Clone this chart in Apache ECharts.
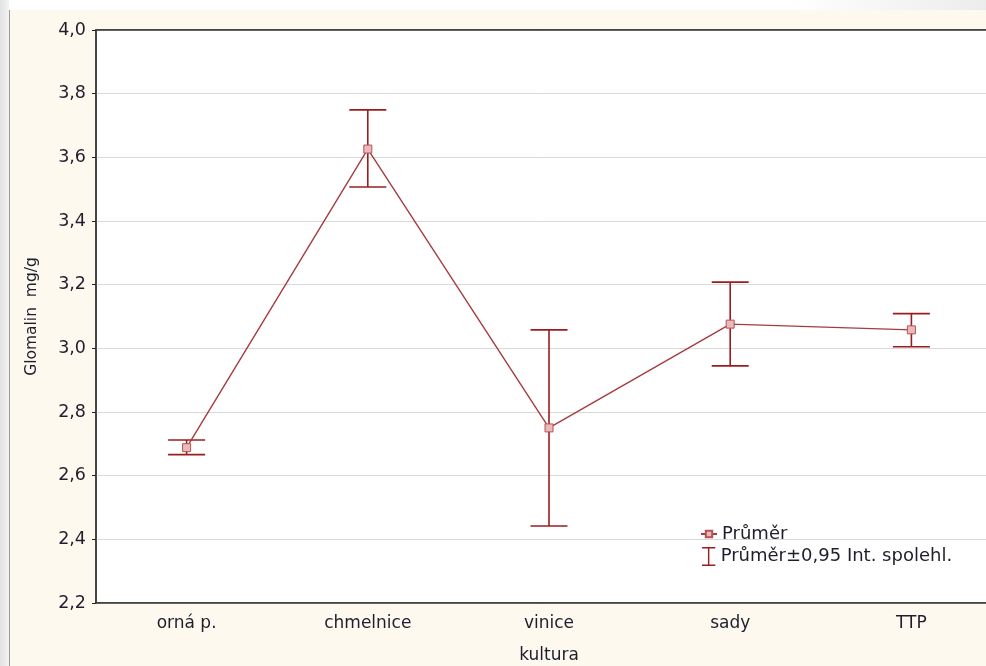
<!DOCTYPE html>
<html>
<head>
<meta charset="utf-8">
<script src="https://cdn.jsdelivr.net/npm/echarts@6/dist/echarts.min.js"></script>
<style>
html,body{margin:0;padding:0;background:#fff;}
#c{width:986px;height:666px;}
</style>
</head>
<body>
<div id="c"></div>
<script>
var categories = ['orná p.', 'chmelnice', 'vinice', 'sady', 'TTP'];
var means = [2.688, 3.626, 2.750, 3.076, 3.058];
var lower = [2.666, 3.507, 2.442, 2.945, 3.005];
var upper = [2.712, 3.749, 3.058, 3.208, 3.109];
var yTicks = [2.2, 2.4, 2.6, 2.8, 3.0, 3.2, 3.4, 3.6, 3.8, 4.0];

var errData = categories.map(function (c, i) { return [i, lower[i], upper[i]]; });
var font = '"DejaVu Sans", sans-serif';
var txt = '#1e1e2c';
var red = '#9b1c1f';

var chart = echarts.init(document.getElementById('c'), null, {renderer: 'canvas'});
chart.setOption({
  backgroundColor: '#fef9ef',
  animation: false,
  graphic: [
    {type: 'rect', shape: {x: 0, y: 0, width: 986, height: 10}, style: {fill: {type: 'linear', x: 0, y: 0, x2: 1, y2: 0, colorStops: [{offset: 0, color: '#ffffff'}, {offset: 0.8, color: '#ffffff'}, {offset: 1, color: '#ececec'}]}}, silent: true},
    {type: 'rect', shape: {x: 0, y: 0, width: 9, height: 666}, style: {fill: {type: 'linear', x: 0, y: 0, x2: 1, y2: 0, colorStops: [{offset: 0, color: '#e2e2e2'}, {offset: 1, color: '#f3f3f3'}]}}, silent: true},
    {type: 'line', shape: {x1: 9.5, y1: 10, x2: 9.5, y2: 666}, style: {stroke: '#9a9a9a', lineWidth: 1}, silent: true}
  ],
  grid: {left: 96, top: 30, width: 906, height: 573, outerBoundsMode: 'none', show: true, backgroundColor: '#ffffff', borderColor: '#3a3a3a', borderWidth: 1.5, containLabel: false},
  legend: [
    {
      data: ['Průměr'], left: 695, top: 520, itemWidth: 16, itemHeight: 8,
      textStyle: {fontFamily: font, fontSize: 18, color: txt}, itemGap: 4
    },
    {
      data: [{name: 'Průměr±0,95 Int. spolehl.', icon: 'path://M0,0H14V1.5H7.75V18.5H14V20H0V18.5H6.25V1.5H0Z'}],
      left: 697, top: 542, itemWidth: 14, itemHeight: 19,
      textStyle: {fontFamily: font, fontSize: 18, color: txt}
    }
  ],
  xAxis: [
    {
      type: 'category', data: categories, position: 'bottom',
      name: 'kultura', nameLocation: 'middle', nameGap: 44,
      nameTextStyle: {fontFamily: font, fontSize: 17, color: txt},
      axisLine: {lineStyle: {color: '#3a3a3a', width: 1.5}},
      axisTick: {inside: true, length: 5, alignWithLabel: true, lineStyle: {color: '#222'}},
      axisLabel: {fontFamily: font, fontSize: 17, color: txt, margin: 12},
      splitLine: {show: false}
    },
    {
      type: 'category', data: categories, position: 'top',
      axisLine: {lineStyle: {color: '#3a3a3a', width: 1.5}},
      axisTick: {inside: true, length: 5, alignWithLabel: true, lineStyle: {color: '#222'}},
      axisLabel: {show: false},
      splitLine: {show: false}
    }
  ],
  yAxis: {
    type: 'value', min: 2.2, max: 4.0, interval: 0.2,
    name: 'Glomalin  mg/g', nameLocation: 'middle', nameGap: 56,
    nameTextStyle: {fontFamily: font, fontSize: 15.5, color: txt},
    axisLine: {show: true, lineStyle: {color: '#3a3a3a', width: 1.5}},
    axisTick: {show: true, length: 4, lineStyle: {color: '#222'}},
    axisLabel: {
      fontFamily: font, fontSize: 17.5, color: txt, margin: 10,
      formatter: function (v) {
        var t = yTicks.reduce(function (a, b) { return Math.abs(b - v) < Math.abs(a - v) ? b : a; });
        return t.toFixed(1).replace('.', ',');
      }
    },
    splitLine: {show: true, lineStyle: {color: '#d9d9d9', width: 1}}
  },
  series: [
    {
      name: 'Průměr±0,95 Int. spolehl.', type: 'custom', xAxisIndex: 0,
      itemStyle: {color: red},
      data: errData,
      z: 2,
      renderItem: function (params, api) {
        var x = api.value(0);
        var lo = api.coord([x, api.value(1)]);
        var hi = api.coord([x, api.value(2)]);
        var hw = 18.5;
        var st = {stroke: red, lineWidth: 1.6};
        return {
          type: 'group',
          children: [
            {type: 'line', shape: {x1: lo[0], y1: lo[1], x2: hi[0], y2: hi[1]}, style: st},
            {type: 'line', shape: {x1: hi[0] - hw, y1: hi[1], x2: hi[0] + hw, y2: hi[1]}, style: st},
            {type: 'line', shape: {x1: lo[0] - hw, y1: lo[1], x2: lo[0] + hw, y2: lo[1]}, style: st}
          ]
        };
      }
    },
    {
      name: 'Průměr', type: 'line', xAxisIndex: 0, data: means, z: 3,
      symbol: 'rect', symbolSize: 8,
      lineStyle: {color: '#a53c3e', width: 1.4},
      itemStyle: {color: '#eab9ba', borderColor: '#b25356', borderWidth: 1},
      emphasis: {disabled: true}
    }
  ]
});
</script>
</body>
</html>
